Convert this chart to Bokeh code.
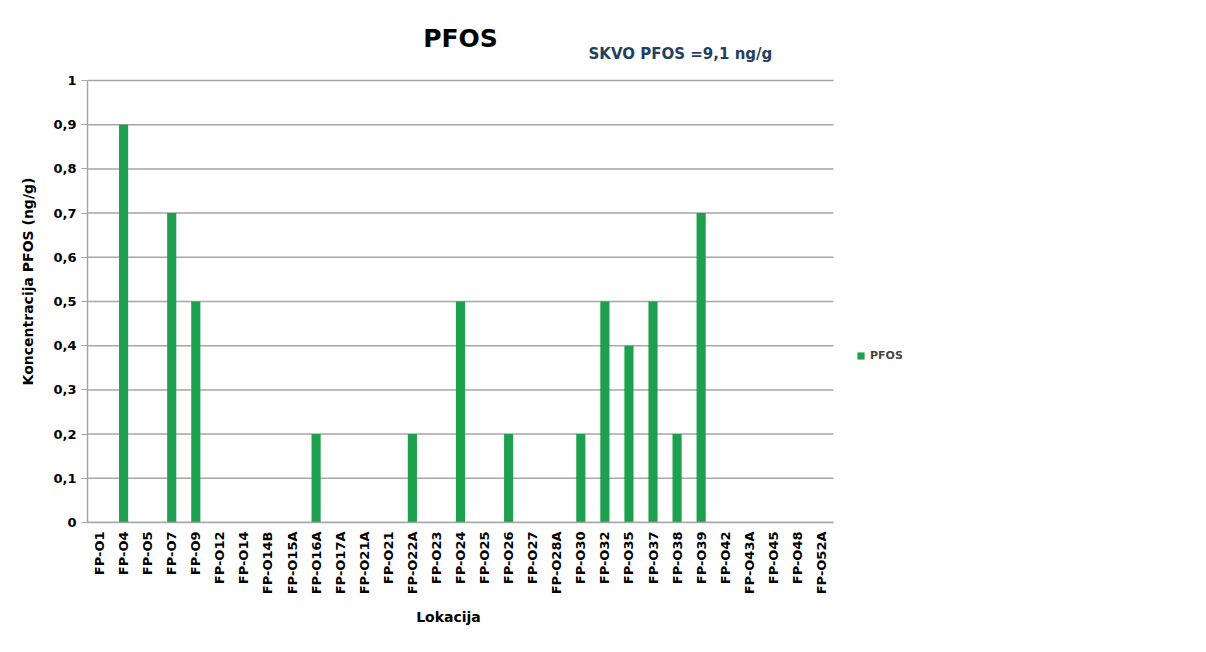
from bokeh.plotting import figure
from bokeh.models import (ColumnDataSource, FixedTicker, CustomJSTickFormatter, Legend,
                          LegendItem, Label, Range1d)
from bokeh.embed import file_html
from bokeh.resources import INLINE
import math

locations = ["FP-O1", "FP-O4", "FP-O5", "FP-O7", "FP-O9", "FP-O12", "FP-O14", "FP-O14B",
             "FP-O15A", "FP-O16A", "FP-O17A", "FP-O21A", "FP-O21", "FP-O22A", "FP-O23",
             "FP-O24", "FP-O25", "FP-O26", "FP-O27", "FP-O28A", "FP-O30", "FP-O32",
             "FP-O35", "FP-O37", "FP-O38", "FP-O39", "FP-O42", "FP-O43A", "FP-O45",
             "FP-O48", "FP-O52A"]
pfos = [0, 0.9, 0, 0.7, 0.5, 0, 0, 0,
        0, 0.2, 0, 0, 0, 0.2, 0,
        0.5, 0, 0.2, 0, 0, 0.2, 0.5,
        0.4, 0.5, 0.2, 0.7, 0, 0, 0,
        0, 0]
y_ticks = [0, 0.1, 0.2, 0.3, 0.4, 0.5, 0.6, 0.7, 0.8, 0.9, 1.0]

n = len(locations)
idx = list(range(n))
src = ColumnDataSource(dict(i=idx, loc=locations, val=pfos))

# layout: data area spans 746 px for the categories; extra room on the right for the legend,
# extra room on top for the subtitle (kept inside the frame so it is not clipped)
TOP = 40
FRAME_W, DATA_W = 839, 746
FRAME_H, DATA_H = 522 - TOP, 442
x_end = -0.5 + n * FRAME_W / DATA_W
y_end = y_ticks[-1] * FRAME_H / DATA_H

p = figure(x_range=Range1d(-0.5, x_end), y_range=Range1d(0, y_end),
           width=87 + FRAME_W, height=640,
           output_backend="svg", toolbar_location=None,
           min_border_left=87, min_border_right=0, min_border_top=TOP, min_border_bottom=118,
           background_fill_color="white", border_fill_color="white")
p.outline_line_color = None
p.xgrid.grid_line_color = None
p.ygrid.grid_line_color = None

grid_col = "#a6a6a6"
# horizontal gridlines only across the category area
p.segment(x0=[-0.5] * len(y_ticks), x1=[n - 0.5] * len(y_ticks), y0=y_ticks, y1=y_ticks,
          line_color=grid_col, line_width=1.5)

r = p.vbar(x="i", top="val", width=0.38, source=src, fill_color="#1ea14f", line_color=None)

p.yaxis.ticker = FixedTicker(ticks=y_ticks)
p.yaxis.bounds = (0, y_ticks[-1])
p.yaxis.formatter = CustomJSTickFormatter(code="return (Math.round(tick*10)/10).toString().replace('.', ',');")
p.yaxis.minor_tick_line_color = None
p.yaxis.major_tick_in = 0
p.yaxis.major_tick_out = 6

p.xaxis.ticker = FixedTicker(ticks=idx)
p.xaxis.bounds = (-0.5, n - 0.5)
p.xaxis.formatter = CustomJSTickFormatter(args=dict(labels=locations),
                                          code="return labels[Math.round(tick)] || '';")
p.xaxis.minor_tick_line_color = None

for ax in (p.xaxis[0], p.yaxis[0]):
    ax.axis_line_color = grid_col
    ax.axis_line_width = 1.5
    ax.major_tick_line_color = grid_col
    ax.major_label_text_font = "DejaVu Sans"
    ax.major_label_text_font_style = "bold"
    ax.major_label_text_color = "black"
    ax.axis_label_text_font = "DejaVu Sans"
    ax.axis_label_text_font_style = "bold"
    ax.axis_label_text_color = "black"
    ax.axis_label_text_font_size = "14px"

p.yaxis.major_label_text_font_size = "13px"
p.yaxis.axis_label = "Koncentracija PFOS (ng/g)"
p.yaxis.axis_label_standoff = 14
p.xaxis.major_label_text_font_size = "13px"
p.xaxis.major_label_orientation = math.pi / 2
p.xaxis.major_tick_line_color = None
p.xaxis.major_tick_out = 4

title = Label(x=373, y=2, x_units="screen", y_units="screen", text="PFOS",
              text_align="center", text_baseline="middle", text_font="DejaVu Sans",
              text_font_size="25px", text_font_style="bold", text_color="black")
p.add_layout(title, "above")
sub = Label(x=501, y=522 - 53, x_units="screen", y_units="screen", text="SKVO PFOS =9,1 ng/g",
            text_align="left", text_baseline="middle", text_font="DejaVu Sans",
            text_font_size="15px", text_font_style="bold", text_color="#243f60")
p.add_layout(sub)

xlab = Label(x=361, y=-3, x_units="screen", y_units="screen", text="Lokacija",
             text_align="center", text_baseline="middle", text_font="DejaVu Sans",
             text_font_size="14px", text_font_style="bold", text_color="black")
p.add_layout(xlab, "below")

legend = Legend(items=[LegendItem(label="PFOS", renderers=[r])], location=(769, 160),
                label_text_font="DejaVu Sans", label_text_font_style="bold",
                label_text_font_size="11px", glyph_width=9, glyph_height=9,
                border_line_color=None, background_fill_alpha=0, padding=4, spacing=2,
                margin=0)
p.add_layout(legend)

open("out.html", "w").write(file_html(p, INLINE))
